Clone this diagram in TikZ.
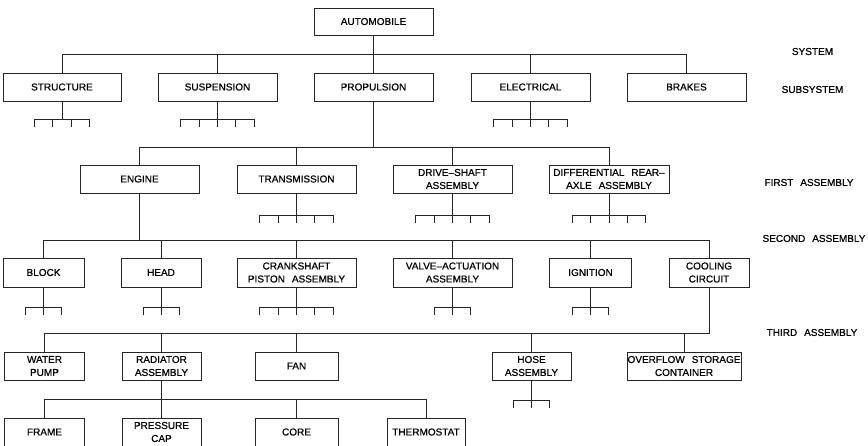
\documentclass[tikz,border=0pt]{standalone}
\usepackage{fontspec}
\setmainfont[WordSpace=2.5,FakeBold=0.6]{Liberation Sans}
\usetikzlibrary{calc}

% stem below a box ending in a small comb of ticks:
% #1 node, #2 stem length, #3 half width of the comb, #4 inner tick offsets
\newcommand{\stubcomb}[4]{%
  \draw[link] (#1.south) -- ++(0,#2) coordinate (#1-comb);
  \draw[link,shift={(#1-comb)}] (-#3,8) -- (-#3,0) -- (#3,0) -- (#3,8);
  \foreach \o in {#4} \draw[link,shift={(#1-comb)}] (\o,0) -- (\o,8);
}

\begin{document}
\begin{tikzpicture}[x=1pt,y=-1pt,
  link/.style={draw=black!85,line width=0.85pt},
  part/.style={draw=black!85,line width=0.85pt,inner sep=0pt,minimum height=28pt,
    align=center,font=\fontsize{10}{13}\selectfont},
  level/.style={inner sep=0pt,font=\fontsize{10}{13}\selectfont}]
\useasboundingbox (0,0) rectangle (868,445);

% system
\node[part,minimum width=119pt,minimum height=27pt] (automobile) at (373.5,21.5) {AUTOMOBILE};

% subsystems
\node[part,minimum width=118pt] (structure)  at (62,87)    {STRUCTURE};
\node[part,minimum width=119pt] (suspension) at (217.5,87) {SUSPENSION};
\node[part,minimum width=119pt] (propulsion) at (373.5,87) {PROPULSION};
\node[part,minimum width=119pt] (electrical) at (530.5,87) {ELECTRICAL};
\node[part,minimum width=119pt] (brakes)     at (686.5,87) {BRAKES};

% first assembly
\node[part,minimum width=119pt] (engine)       at (139.5,179) {ENGINE};
\node[part,minimum width=119pt] (transmission) at (296.5,179) {TRANSMISSION};
\node[part,minimum width=119pt] (driveshaft)   at (452.5,179) {DRIVE--SHAFT\\ASSEMBLY};
\node[part,minimum width=120pt] (differential) at (609,179)   {DIFFERENTIAL REAR--\\AXLE ASSEMBLY};

% second assembly
\node[part,minimum width=81pt,minimum height=29pt]  (block)      at (43.5,272.5)  {BLOCK};
\node[part,minimum width=80pt,minimum height=29pt]  (head)       at (161,272.5)   {HEAD};
\node[part,minimum width=119pt,minimum height=29pt] (crankshaft) at (296.5,272.5) {CRANKSHAFT\\PISTON ASSEMBLY};
\node[part,minimum width=119pt,minimum height=29pt] (valve)      at (452.5,272.5) {VALVE--ACTUATION\\ASSEMBLY};
\node[part,minimum width=82pt,minimum height=29pt]  (ignition)   at (590.5,272.5) {IGNITION};
\node[part,minimum width=80pt,minimum height=29pt]  (cooling)    at (709,272.5)   {COOLING\\CIRCUIT};

% third assembly
\node[part,minimum width=80pt]  (waterpump) at (44.5,366)  {WATER\\PUMP};
\node[part,minimum width=79pt]  (radiator)  at (161.5,366) {RADIATOR\\ASSEMBLY};
\node[part,minimum width=83pt]  (fan)       at (296.5,366) {FAN};
\node[part,minimum width=79pt]  (hose)      at (531.5,366) {HOSE\\ASSEMBLY};
\node[part,minimum width=114pt] (overflow)  at (684,366)   {OVERFLOW STORAGE\\CONTAINER};

% radiator parts
\node[part,minimum width=80pt] (frame)      at (44.5,432)  {FRAME};
\node[part,minimum width=79pt] (pressure)   at (161.5,432) {PRESSURE\\CAP};
\node[part,minimum width=83pt] (core)       at (296.5,432) {CORE};
\node[part,minimum width=78pt] (thermostat) at (426,432)   {THERMOSTAT};

% level names
\node[level] (lbl-system)    at (812.5,51.5)  {SYSTEM};
\node[level] (lbl-subsystem) at (812.5,89.5)  {SUBSYSTEM};
\node[level] (lbl-first)     at (809,182.5)   {FIRST ASSEMBLY};
\node[level] (lbl-second)    at (814,238.5)   {SECOND ASSEMBLY};
\node[level] (lbl-third)     at (812,332.5)   {THIRD ASSEMBLY};

% bus heights
\coordinate (bus-sys)    at (0,54);
\coordinate (bus-first)  at (0,147);
\coordinate (bus-second) at (0,240);
\coordinate (bus-third)  at (0,333);
\coordinate (bus-fourth) at (0,399);

% automobile -> subsystems
\draw[link] (automobile.south) -- (automobile.south |- bus-sys);
\draw[link] (structure.north) |- (bus-sys -| brakes.north) -- (brakes.north);
\foreach \n in {suspension,propulsion,electrical}
  \draw[link] (\n.north) -- (\n.north |- bus-sys);

% propulsion -> first assembly
\draw[link] (propulsion.south) -- (propulsion.south |- bus-first);
\draw[link] (engine.north) |- (bus-first -| differential.north) -- (differential.north);
\foreach \n in {transmission,driveshaft}
  \draw[link] (\n.north) -- (\n.north |- bus-first);

% engine -> second assembly
\draw[link] (engine.south) -- (engine.south |- bus-second);
\draw[link] (block.north) |- (bus-second -| cooling.north) -- (cooling.north);
\foreach \n in {head,crankshaft,valve,ignition}
  \draw[link] (\n.north) -- (\n.north |- bus-second);

% cooling circuit -> third assembly
\draw[link] (waterpump.north) |- (bus-third -| cooling.south) -- (cooling.south);
\foreach \n in {radiator,fan,hose,overflow}
  \draw[link] (\n.north) -- (\n.north |- bus-third);

% radiator assembly -> parts
\draw[link] (radiator.south) -- (radiator.south |- bus-fourth);
\draw[link] (frame.north) |- (bus-fourth -| thermostat.north) -- (thermostat.north);
\foreach \n in {pressure,core}
  \draw[link] (\n.north) -- (\n.north |- bus-fourth);

% unexpanded branches
\stubcomb{structure}{18}{27.4}{-9.1,9.1}
\stubcomb{suspension}{18}{36.6}{-18.3,0,18.3}
\stubcomb{electrical}{18}{36.6}{-18.3,0,18.3}
\stubcomb{transmission}{22}{36.6}{-18.3,0,18.3}
\stubcomb{driveshaft}{22}{36.6}{-18.3,0,18.3}
\stubcomb{differential}{22}{36.6}{-18.3,0,18.3}
\stubcomb{block}{20}{18}{0}
\stubcomb{head}{20}{18}{0}
\stubcomb{crankshaft}{20}{36.6}{-18.3,0,18.3}
\stubcomb{valve}{20}{18.3}{0}
\stubcomb{ignition}{20}{18.3}{0}
\stubcomb{hose}{20}{18.3}{0}
\end{tikzpicture}
\end{document}
